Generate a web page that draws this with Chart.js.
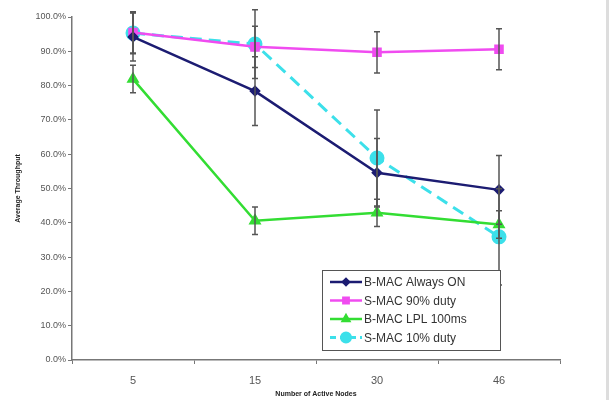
<!DOCTYPE html>
<html>
<head>
<meta charset="utf-8">
<script src="https://cdn.jsdelivr.net/npm/chart.js@4"></script>
<style>
  html, body { margin: 0; padding: 0; background: #fff; }
  #wrap { width: 611px; height: 400px; position: relative; }
</style>
</head>
<body>
<div id="wrap"><canvas id="chart" width="611" height="400"></canvas></div>
<script>
var nodes = ["5", "15", "30", "46"];

var bmacOn = [94.2, 78.4, 54.6, 49.6];
var bmacOnErr = [7, 10, 10, 10];

var smac90 = [95.5, 91.3, 89.7, 90.6];
var smac90Err = [6, 6, 6, 6];

var bmacLpl = [81.9, 40.6, 42.9, 39.5];
var bmacLplErr = [4, 4, 4, 4];

var smac10 = [95.3, 92.1, 58.9, 35.9];
var smac10Err = [6, 10, 14, 14];

var legendNames = ["B-MAC Always ON", "S-MAC 90% duty", "B-MAC LPL 100ms", "S-MAC 10% duty"];

// error bars drawn from each dataset's err array
var errorBars = {
    id: "errorBars",
    afterDatasetsDraw: function(chart) {
        var ctx = chart.ctx;
        var y = chart.scales.y;
        ctx.save();
        ctx.strokeStyle = "#555";
        ctx.lineWidth = 1.5;
        chart.data.datasets.forEach(function(ds, i) {
            var meta = chart.getDatasetMeta(i);
            meta.data.forEach(function(pt, j) {
                var top = y.getPixelForValue(ds.data[j] + ds.err[j]);
                var bot = y.getPixelForValue(ds.data[j] - ds.err[j]);
                ctx.beginPath();
                ctx.moveTo(pt.x, top); ctx.lineTo(pt.x, bot);
                ctx.moveTo(pt.x - 3, top); ctx.lineTo(pt.x + 3, top);
                ctx.moveTo(pt.x - 3, bot); ctx.lineTo(pt.x + 3, bot);
                ctx.stroke();
            });
        });
        ctx.restore();
    }
};

// legend box inside the plot, bottom right
var boxLegend = {
    id: "boxLegend",
    afterDraw: function(chart) {
        var ctx = chart.ctx;
        var x0 = 322, y0 = 270, w = 178, h = 80;
        ctx.save();
        ctx.fillStyle = "#fff";
        ctx.fillRect(x0, y0, w, h);
        ctx.strokeStyle = "#555";
        ctx.lineWidth = 1;
        ctx.strokeRect(x0 + 0.5, y0 + 0.5, w, h);
        ctx.font = "12px 'Liberation Sans', Arial, sans-serif";
        ctx.textBaseline = "middle";
        chart.data.datasets.forEach(function(ds, i) {
            var ly = y0 + 12 + i * 18.5;
            ctx.strokeStyle = ds.borderColor;
            ctx.lineWidth = ds.borderWidth;
            ctx.setLineDash(ds.borderDash.length ? [6, 4] : []);
            ctx.beginPath();
            ctx.moveTo(x0 + 8, ly); ctx.lineTo(x0 + 40, ly);
            ctx.stroke();
            ctx.setLineDash([]);
            ctx.fillStyle = ds.pointBackgroundColor;
            ctx.strokeStyle = ds.pointBackgroundColor;
            Chart.helpers.drawPoint(ctx, {
                pointStyle: ds.pointStyle, radius: ds.pointRadius * 0.75, rotation: 0, borderWidth: 1
            }, x0 + 24, ly);
            ctx.fillStyle = "#333";
            ctx.fillText(legendNames[i], x0 + 42, ly + 1);
        });
        // faint frame line on the right
        ctx.strokeStyle = "#ddd";
        ctx.beginPath();
        ctx.moveTo(607.5, 0); ctx.lineTo(607.5, 400);
        ctx.stroke();
        ctx.restore();
    }
};

function makeSet(label, data, err, color, style, radius, dash, width) {
    return {
        label: label,
        data: data,
        err: err,
        borderColor: color,
        backgroundColor: color,
        pointBackgroundColor: color,
        pointBorderColor: color,
        pointStyle: style,
        pointRadius: radius,
        borderWidth: width,
        borderDash: dash,
        tension: 0
    };
}

new Chart(document.getElementById("chart"), {
    type: "line",
    data: {
        labels: nodes,
        datasets: [
            makeSet(legendNames[0], bmacOn, bmacOnErr, "#1c1c72", "rectRot", 4, [], 2.5),
            makeSet(legendNames[1], smac90, smac90Err, "#f04cf0", "rect", 5, [], 2.5),
            makeSet(legendNames[2], bmacLpl, bmacLplErr, "#33dd33", "triangle", 5, [], 2.5),
            makeSet(legendNames[3], smac10, smac10Err, "#3ce0ea", "circle", 6, [12, 7], 3)
        ]
    },
    options: {
        responsive: false,
        animation: false,
        layout: { padding: { left: 8, right: 51, top: 17, bottom: 2 } },
        plugins: {
            legend: { display: false },
            tooltip: { enabled: false }
        },
        scales: {
            x: {
                offset: true,
                afterFit: function(scale) { scale.height = 38; },
                grid: { drawOnChartArea: false, offset: true, tickLength: 4, color: "#777", lineWidth: 1 },
                border: { color: "#777", width: 1.5 },
                ticks: { color: "#555", font: { family: "'Liberation Sans', Arial", size: 11 }, padding: 10 },
                title: {
                    display: true, text: "Number of Active Nodes", color: "#222",
                    font: { family: "'Liberation Sans', Arial", size: 7, weight: "bold" }, padding: { top: 2, bottom: 0 }
                }
            },
            y: {
                min: 0,
                max: 100,
                afterFit: function(scale) { scale.width = 64; },
                grid: { drawOnChartArea: false, tickLength: 4, color: "#777" },
                border: { color: "#777", width: 1.5 },
                ticks: {
                    stepSize: 10,
                    color: "#555",
                    font: { family: "'Liberation Sans', Arial", size: 9 },
                    padding: 2,
                    callback: function(v) { return v.toFixed(1) + "%"; }
                },
                title: {
                    display: true, text: "Average Throughput", color: "#222",
                    font: { family: "'Liberation Sans', Arial", size: 7, weight: "bold" }, padding: { top: 6, bottom: 4 }
                }
            }
        }
    },
    plugins: [errorBars, boxLegend]
});
</script>
</body>
</html>
